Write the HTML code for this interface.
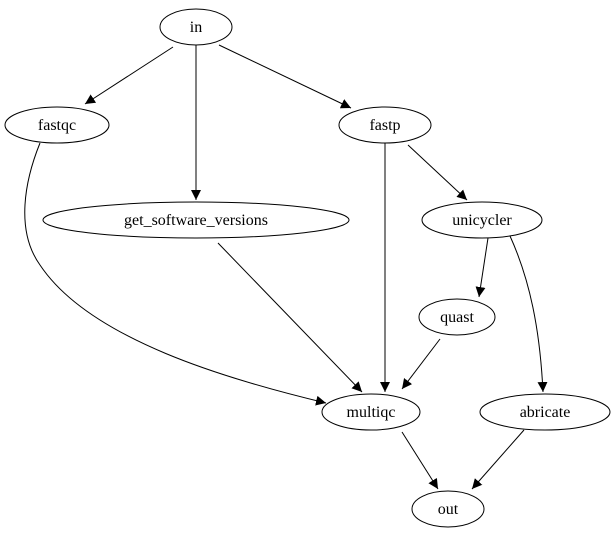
<!DOCTYPE html>
<html><head><meta charset="utf-8"><style>html,body{margin:0;padding:0;background:#fff}svg{display:block}text{font-family:"Times New Roman","Liberation Serif",Times,"DejaVu Serif",serif;font-size:16px}</style></head>
<body>
<svg width="616" height="539" viewBox="0 0 616 539" xmlns="http://www.w3.org/2000/svg">
<defs><marker id="a" viewBox="0 0 10 10" refX="10" refY="5" markerWidth="10" markerHeight="10" markerUnits="userSpaceOnUse" orient="auto"><path d="M0,0 L10,5 L0,10 z" fill="#000"/></marker></defs>
<g fill="none" stroke="#000" stroke-width="1">
<ellipse cx="196" cy="27" rx="36" ry="18"/>
<ellipse cx="57" cy="125" rx="52" ry="18"/>
<ellipse cx="385" cy="125" rx="46" ry="18"/>
<ellipse cx="196" cy="220" rx="153" ry="18"/>
<ellipse cx="482" cy="220" rx="60" ry="18"/>
<ellipse cx="457" cy="317" rx="38" ry="18"/>
<ellipse cx="371" cy="412" rx="49" ry="18"/>
<ellipse cx="545" cy="412" rx="65" ry="18"/>
<ellipse cx="448" cy="509" rx="36" ry="18"/>
<g marker-end="url(#a)">
<path d="M173,47 L85,104"/>
<path d="M196,45 L196,200"/>
<path d="M219,45 L351,108"/>
<path d="M40,143 C25,180 15,230 40,265 C90,340 230,380 326,403"/>
<path d="M218,243 L362,392"/>
<path d="M385,143 L385,392"/>
<path d="M408,145 L467,200"/>
<path d="M488,238 L479,297"/>
<path d="M510,236 C530,280 540,330 543,392"/>
<path d="M440,339 L402,389"/>
<path d="M402,432 L438,489"/>
<path d="M524,430 L472,489"/>
</g></g>
<g text-anchor="middle" fill="#000">
<text x="196" y="32">in</text>
<text x="57" y="130">fastqc</text>
<text x="385" y="130">fastp</text>
<text x="196" y="225">get_software_versions</text>
<text x="482" y="225">unicycler</text>
<text x="457" y="322">quast</text>
<text x="371" y="417">multiqc</text>
<text x="545" y="417">abricate</text>
<text x="448" y="514">out</text>
</g>
</svg>
</body></html>
